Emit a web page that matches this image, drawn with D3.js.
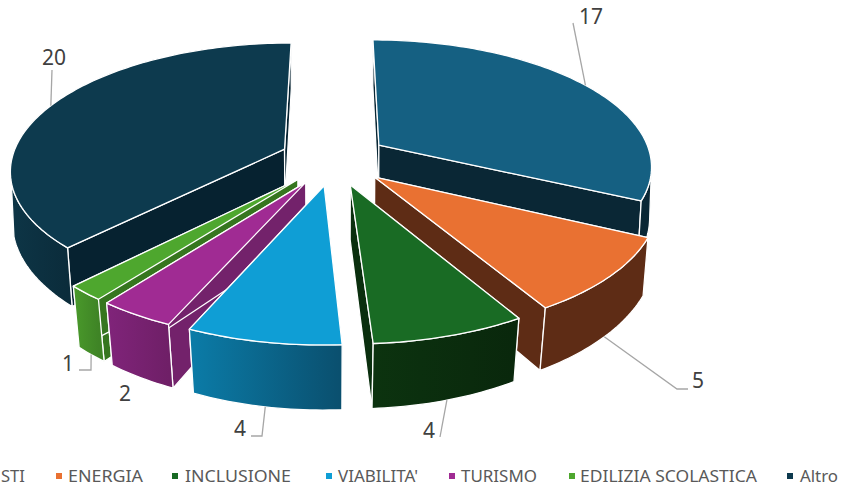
<!DOCTYPE html>
<html>
<head>
<meta charset="utf-8">
<script src="https://cdn.jsdelivr.net/npm/d3@7/dist/d3.min.js"></script>
<style>
html,body{margin:0;padding:0;background:#fff;overflow:hidden}
svg{display:block}
text{font-family:"Noto Sans",sans-serif;fill:#404040}
</style>
</head>
<body>
<svg id="c" width="844" height="490"></svg>
<script>
// ---- data ----
const categories = ["STI","ENERGIA","INCLUSIONE","VIABILITA'","TURISMO","EDILIZIA SCOLASTICA","Altro"];
const values = [17,5,4,4,2,1,20];
// ---- styles ----
const topColors  = ["#156082","#E97132","#196B24","#0F9ED5","#A02B93","#4EA72E","#0D3A4E"];
const sideColors = ["#0A2735","#5E2C15","#0A2F0E","#0A5A7C","#73226B","#36761F","#062230"];
const rimLeft    = ["#0A2735","#5E2C15","#0C330F","#0B7CA8","#80247A","#4A9A2B","#0D3546"];
const rimRight   = ["#0A2735","#5E2C15","#09270C","#0A4F6E","#6F1F67","#3F8426","#0B2C3B"];
// ---- layout ----
const cx=334, cy=159, explode=54, rx=273, rz=257, D=1667, tilt=0.488, thick=53;
const horizon=tilt*D;
const wallFrom=100, wallTo=255; // silhouette of the outer wall, degrees
const labelPos  = [[591,16],[698,380],[429,430],[240,428],[125,393],[68,363],[54,57]];
const leaderVia = [[[573,23]],[[677,389],[688,389]],[[440,437]],[[262,436],[251,436]],null,[[91,370],[79,370]],[[52,70]]];
const legendTextX = [1,68,185,338,461,580,800];
const legendTextW = [24,75,106,80,76,177,38];
const legendSwatchX = [0,56,172,326,449,569,787];
const legendY=476;

const svg=d3.select("#c");
const defs=svg.append("defs");
const arcs=d3.pie().sort(null).startAngle(0).endAngle(2*Math.PI)(values);
const line=d3.line();

function slicePoint(d,a,r,bottom){
  const mid=(d.startAngle+d.endAngle)/2;
  const X=explode*Math.sin(mid)+rx*r*Math.sin(a);
  const Z=-explode*Math.cos(mid)-rz*r*Math.cos(a);
  const s=1/(1-Z/D);
  const m=bottom?1-(0.005+0.11*Math.max(0,s-1)):1;
  return [cx+X*s*m, cy+horizon*(s-1)+(bottom?thick*s:0)];
}
function arcAngles(a0,a1){
  const n=Math.max(2,Math.ceil(Math.abs(a1-a0)/0.02));
  return d3.range(n+1).map(i=>a0+(a1-a0)*i/n);
}
const order=arcs.map((d,i)=>i).sort((p,q)=>
  d3.descending(Math.cos((arcs[p].startAngle+arcs[p].endAngle)/2),Math.cos((arcs[q].startAngle+arcs[q].endAngle)/2)));

const wf=Math.PI/180;
const pieG=svg.append("g");
order.forEach(i=>{
  const d=arcs[i];
  const g=pieG.append("g").attr("stroke","#fff").attr("stroke-width",1.3).attr("stroke-linejoin","round");
  // radial walls
  [d.startAngle,d.endAngle].forEach(a=>{
    const q=[slicePoint(d,a,0,false),slicePoint(d,a,1,false),slicePoint(d,a,1,true),slicePoint(d,a,0,true)];
    g.append("path").attr("d",line(q)+"Z").attr("fill",sideColors[i]);
  });
  // outer wall (only the part facing the viewer)
  const a0=Math.max(d.startAngle,wallFrom*wf), a1=Math.min(d.endAngle,wallTo*wf);
  if(a1>a0){
    const topEdge=arcAngles(a0,a1).map(a=>slicePoint(d,a,1,false));
    const botEdge=arcAngles(a0,a1).map(a=>slicePoint(d,a,1,true));
    const xs=d3.extent(topEdge,p=>p[0]);
    const id="rim"+i;
    const grad=defs.append("linearGradient").attr("id",id).attr("gradientUnits","userSpaceOnUse")
      .attr("x1",xs[0]).attr("x2",xs[1]).attr("y1",0).attr("y2",0);
    grad.append("stop").attr("offset",0).attr("stop-color",rimLeft[i]);
    grad.append("stop").attr("offset",1).attr("stop-color",rimRight[i]);
    g.append("path").attr("d",line(topEdge.concat(botEdge.reverse()))+"Z").attr("fill",`url(#${id})`);
  }
  // top face
  const rimPts=arcAngles(d.startAngle,d.endAngle).map(a=>slicePoint(d,a,1,false));
  g.append("path").attr("d",line([slicePoint(d,d.startAngle,0,false)].concat(rimPts))+"Z").attr("fill",topColors[i]);
});

// leaders and data labels
const labels=svg.append("g");
arcs.forEach((d,i)=>{
  const mid=(d.startAngle+d.endAngle)/2;
  const back=Math.cos(mid)>0.2;
  if(leaderVia[i]){
    const pts=[slicePoint(d,mid,1,!back)].concat(leaderVia[i]);
    labels.append("path").attr("d",line(pts)).attr("fill","none").attr("stroke","#A6A6A6").attr("stroke-width",1.3);
  }
  labels.append("text").attr("x",labelPos[i][0]).attr("y",labelPos[i][1]+7.5).attr("text-anchor","middle")
    .attr("font-size",21).text(d.data);
});

// legend
const lg=svg.append("g");
categories.forEach((c,i)=>{
  if(i>0) lg.append("rect").attr("x",legendSwatchX[i]).attr("y",legendY-3).attr("width",6).attr("height",6).attr("fill",topColors[i]);
  lg.append("text").attr("x",legendTextX[i]).attr("y",legendY+6).attr("font-size",16).style("fill","#595959")
    .attr("textLength",legendTextW[i]).attr("lengthAdjust","spacingAndGlyphs").text(c);
});
</script>
</body>
</html>
